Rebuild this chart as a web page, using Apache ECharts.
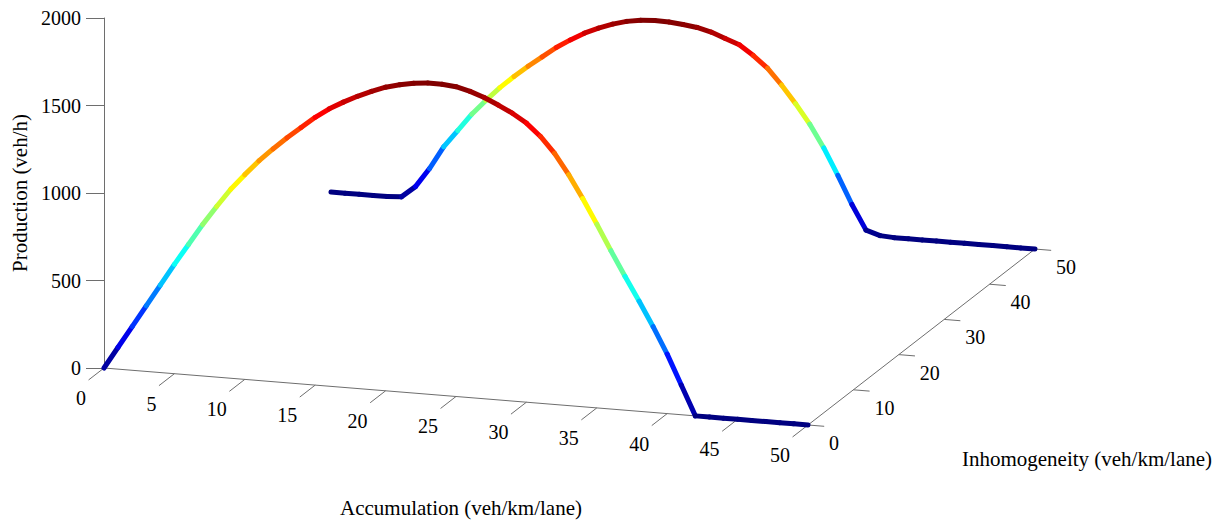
<!DOCTYPE html>
<html>
<head>
<meta charset="utf-8">
<script src="https://cdn.jsdelivr.net/npm/echarts@6/dist/echarts.min.js"></script>
<style>
  html, body { margin: 0; padding: 0; background: #fff; }
  #main { width: 1223px; height: 522px; }
</style>
</head>
<body>
<div id="main"></div>
<script>
// accumulation samples shared by both curves (veh/km/lane)
const accumulation = [0, 1, 2, 3, 4, 5, 6, 7, 8, 9, 10, 11, 12, 13, 14, 15, 16, 17, 18, 19, 20,
  21, 22, 23, 24, 25, 26, 27, 28, 29, 30, 31, 32, 33, 34, 35, 36, 37, 38, 39, 40,
  41, 42, 43, 44, 45, 46, 47, 48, 49, 50];
// inhomogeneity of each curve
const curveInhomogeneity = [0, 50];
// production (veh/h)
const productionInhom0 = [0, 125, 250, 375, 500, 625, 745, 865, 975, 1080, 1170,
  1255, 1330, 1400, 1465, 1530, 1585, 1630, 1670, 1705, 1735,
  1755, 1770, 1778, 1778, 1770, 1750, 1722, 1685, 1645, 1595,
  1525, 1435, 1320, 1190, 1050, 905, 765, 630, 490, 340,
  170, 0, 0, 0, 0, 0, 0, 0, 0, 0];
const productionInhom50 = [0, 0, 0, 0, 0, 5, 70, 180, 310, 410, 510,
  595, 675, 745, 810, 870, 930, 980, 1025, 1060, 1090,
  1112, 1125, 1130, 1128, 1120, 1110, 1090, 1060, 1030, 975,
  910, 820, 720, 610, 480, 330, 170, 30, 5, 0,
  0, 0, 0, 0, 0, 0, 0, 0, 0, 0];
const accumulationTicks = [0, 5, 10, 15, 20, 25, 30, 35, 40, 45, 50];
const inhomogeneityTicks = [0, 10, 20, 30, 40, 50];

// view: how the floor is tilted on the 2d grid
const SKEW = 0.3224;  // horizontal shift (acc units) per unit of inhomogeneity
const DROP = 6.514;   // floor falls this many veh/h per unit of accumulation
const RISE = 20.11;   // floor rises this many veh/h per unit of inhomogeneity

const FONT = 'Liberation Serif';
const AXIS_GREY = '#6e6e6e';

function project(acc, inh, prod) {
  return [acc + inh * SKEW, prod - acc * DROP + inh * RISE];
}

// matlab jet colormap
function jet(t) {
  t = Math.max(0, Math.min(1, t));
  const c = (v) => Math.round(255 * Math.max(0, Math.min(1, v)));
  const r = c(1.5 - Math.abs(4 * t - 3));
  const g = c(1.5 - Math.abs(4 * t - 2));
  const b = c(1.5 - Math.abs(4 * t - 1));
  return 'rgb(' + r + ',' + g + ',' + b + ')';
}

function curveSeries(inh, values) {
  const peak = Math.max.apply(null, values);
  return {
    type: 'custom',
    name: 'inhomogeneity ' + inh,
    data: accumulation.map((a, i) => [a, inh, values[i]]),
    encode: { x: 0, y: 2 },
    renderItem: function (params, api) {
      const i = params.dataIndexInside;
      if (i >= params.dataInsideLength - 1) return null;
      const a = api.coord(project(api.value(0, i), api.value(1, i), api.value(2, i)));
      const b = api.coord(project(api.value(0, i + 1), api.value(1, i + 1), api.value(2, i + 1)));
      const t = (api.value(2, i) + api.value(2, i + 1)) / 2 / peak;
      return {
        type: 'line',
        shape: { x1: a[0], y1: a[1], x2: b[0], y2: b[1] },
        style: { stroke: jet(t), lineWidth: 5, lineCap: 'round' }
      };
    }
  };
}

const tickText = { fill: '#000', fontFamily: FONT, fontSize: 20 };

// accumulation axis along the front edge of the floor
const accAxisSeries = {
  type: 'custom',
  silent: true,
  data: accumulationTicks.map((t) => [t, 0]),
  renderItem: function (params, api) {
    const t = api.value(0);
    const p = api.coord(project(t, 0, 0));
    const q = api.coord(project(t, -3.4, 0));
    const children = [
      { type: 'line', shape: { x1: p[0], y1: p[1], x2: q[0], y2: q[1] }, style: { stroke: AXIS_GREY, lineWidth: 1 } },
      { type: 'text', x: p[0] - 18, y: p[1] + 30,
        style: Object.assign({ text: String(t), align: 'right', verticalAlign: 'middle' }, tickText) }
    ];
    if (params.dataIndexInside === 0) {
      const s = api.coord(project(accumulationTicks[0], 0, 0));
      const e = api.coord(project(accumulationTicks[accumulationTicks.length - 1], 0, 0));
      children.push({ type: 'line', shape: { x1: s[0], y1: s[1], x2: e[0], y2: e[1] }, style: { stroke: AXIS_GREY, lineWidth: 1 } });
    }
    return { type: 'group', children: children };
  }
};

// inhomogeneity axis along the right edge of the floor
const inhAxisSeries = {
  type: 'custom',
  silent: true,
  data: inhomogeneityTicks.map((t) => [50, t]),
  renderItem: function (params, api) {
    const xEdge = accumulationTicks[accumulationTicks.length - 1];
    const t = api.value(1);
    const p = api.coord(project(xEdge, t, 0));
    const q = api.coord(project(xEdge + 1.15, t, 0));
    const children = [
      { type: 'line', shape: { x1: p[0], y1: p[1], x2: q[0], y2: q[1] }, style: { stroke: AXIS_GREY, lineWidth: 1 } },
      { type: 'text', x: p[0] + 21, y: p[1] + 18,
        style: Object.assign({ text: String(t), align: 'left', verticalAlign: 'middle' }, tickText) }
    ];
    if (params.dataIndexInside === 0) {
      const s = api.coord(project(xEdge, inhomogeneityTicks[0], 0));
      const e = api.coord(project(xEdge, inhomogeneityTicks[inhomogeneityTicks.length - 1], 0));
      children.push({ type: 'line', shape: { x1: s[0], y1: s[1], x2: e[0], y2: e[1] }, style: { stroke: AXIS_GREY, lineWidth: 1 } });
    }
    return { type: 'group', children: children };
  }
};

const chart = echarts.init(document.getElementById('main'), null, { renderer: 'svg' });
chart.setOption({
  animation: false,
  backgroundColor: '#fff',
  grid: { left: 104, top: 18, width: 704, height: 350, outerBoundsMode: 'none', containLabel: false },
  xAxis: {
    type: 'value', min: 0, max: 50,
    show: false
  },
  yAxis: {
    type: 'value', min: 0, max: 2000, interval: 500,
    name: 'Production (veh/h)',
    nameLocation: 'middle',
    nameGap: 53,
    nameTextStyle: { color: '#000', fontFamily: FONT, fontSize: 21 },
    axisLine: { show: true, lineStyle: { color: AXIS_GREY, width: 1 } },
    axisTick: { show: true, length: 18, lineStyle: { color: AXIS_GREY } },
    axisLabel: { color: '#000', fontFamily: FONT, fontSize: 20, margin: 23, formatter: (v) => String(v) },
    splitLine: { show: false }
  },
  graphic: [
    { type: 'text', x: 461, y: 508,
      style: { text: 'Accumulation (veh/km/lane)', fill: '#000', fontFamily: FONT, fontSize: 21, align: 'center', verticalAlign: 'middle' } },
    { type: 'text', x: 1087, y: 459,
      style: { text: 'Inhomogeneity (veh/km/lane)', fill: '#000', fontFamily: FONT, fontSize: 21, align: 'center', verticalAlign: 'middle' } }
  ],
  series: [
    accAxisSeries,
    inhAxisSeries,
    curveSeries(curveInhomogeneity[1], productionInhom50),
    curveSeries(curveInhomogeneity[0], productionInhom0)
  ]
});
</script>
</body>
</html>
